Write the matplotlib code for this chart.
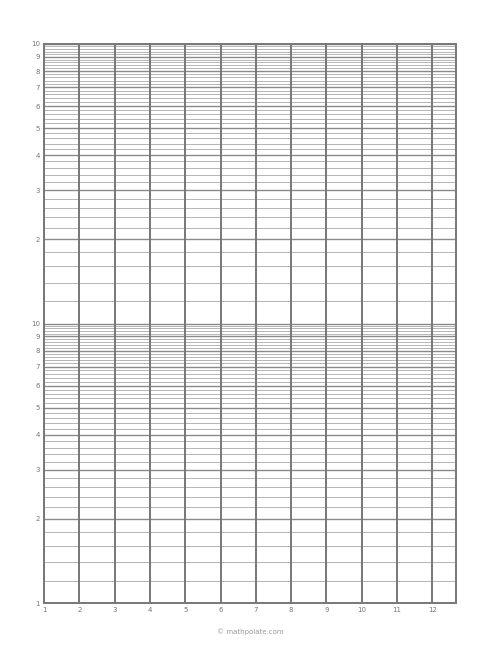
import numpy as np
import matplotlib
matplotlib.use("Agg")
import matplotlib.pyplot as plt

x_labels = [str(i) for i in range(1, 13)]
x_major = list(range(1, 13))
y_major = [1, 2, 3, 4, 5, 6, 7, 8, 9, 10, 20, 30, 40, 50, 60, 70, 80, 90, 100]
y_labels = ["1", "2", "3", "4", "5", "6", "7", "8", "9",
            "10", "2", "3", "4", "5", "6", "7", "8", "9", "10"]
minor_step = 0.2

fig = plt.figure(figsize=(5, 6.47), dpi=100)
ax = fig.add_axes([44/500, 1-603/647, (456-44)/500, (603-44)/647])
ax.set_yscale('log')
ax.set_xlim(1, 12.67)
ax.set_ylim(1, 100)

minors = []
for dec in [1, 10]:
    for v in np.arange(1, 10, minor_step):
        minors.append(round(v, 2) * dec)
for y in minors:
    ax.axhline(y, color='#b5b5b5', lw=0.7, zorder=1)
for y in y_major:
    ax.axhline(y, color='#8a8a8a', lw=1.0, zorder=2)
for x in x_major:
    ax.axvline(x, color='#777777', lw=1.4, zorder=3)

for s in ax.spines.values():
    s.set_color('#777777'); s.set_linewidth(1.4)

ax.set_xticks(x_major)
ax.set_xticklabels(x_labels)
ax.set_yticks(y_major)
ax.set_yticklabels(y_labels)
ax.minorticks_off()
ax.yaxis.set_minor_locator(matplotlib.ticker.NullLocator())
ax.tick_params(length=0, labelsize=5, colors='#777777', pad=3)
for lbl in ax.get_xticklabels():
    lbl.set_color('#777777')
fig.text(0.5, 1-632/647, "© mathpolate.com", ha='center', va='center',
         fontsize=5, color='#999999')
fig.savefig("out.png", dpi=100)
